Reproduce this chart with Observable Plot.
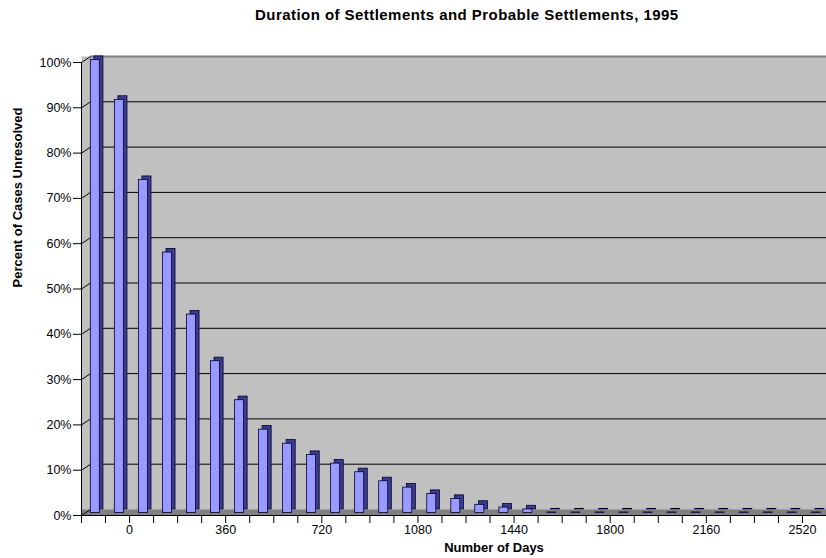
<!DOCTYPE html>
<html>
<head>
<meta charset="utf-8">
<script src="https://cdn.jsdelivr.net/npm/d3@7"></script>
<script src="https://cdn.jsdelivr.net/npm/@observablehq/plot@0.6"></script>
<style>
  body { margin: 0; background: #fff; font-family: "Liberation Sans", Arial, sans-serif; }
  #title { height: 30px; line-height: 30px; font-weight: bold; font-size: 15px; letter-spacing: 0.45px; padding-left: 255px; white-space: nowrap; color: #000; }
</style>
</head>
<body>
<div id="title">Duration of Settlements and Probable Settlements, 1995</div>
<div id="chart"></div>
<script>
// Category bins (start day of each 90-day bin)
const binStart = [-180, -90, 0, 90, 180, 270, 360, 450, 540, 630, 720, 810, 900, 990, 1080, 1170,
                  1260, 1350, 1440, 1530, 1620, 1710, 1800, 1890, 1980, 2070, 2160, 2250, 2340, 2430, 2520];
const binWidth = 90;
// Percent of cases unresolved
const pctUnresolved = [100, 91.2, 73.5, 57.5, 43.8, 33.5, 24.9, 18.4, 15.3, 12.8, 10.9, 9.0, 7.0, 5.6, 4.2, 3.1,
                       1.8, 1.2, 0.8, 0.12, 0.12, 0.12, 0.12, 0.12, 0.12, 0.12, 0.12, 0.12, 0.12, 0.12, 0.12];
// Axis ticks
const xTickLabels = [0, 360, 720, 1080, 1440, 1800, 2160, 2520];
const yTicks = [0, 10, 20, 30, 40, 50, 60, 70, 80, 90, 100];

const data = binStart.map((s, i) => ({start: s, end: s + binWidth, pct: pctUnresolved[i]}));
const xBoundaries = [...binStart, binStart[binStart.length - 1] + binWidth];
const xDomain = [xBoundaries[0], xBoundaries[xBoundaries.length - 1]];

const W = 826, H = 528, mL = 81, mR = 0, mT = 32, mB = 43;
// 3-D depth of the walls in pixels, converted to data units
const depthX = 9, depthY = 6;
const depthDays = depthX * (xDomain[1] - xDomain[0]) / (W - mL - mR);
const depthPct = depthY * 100 / (H - mT - mB);

const barInset = 7.5, barDx = 1.8, barDy = -2.5, barDepth = 3.6;

const chart = Plot.plot({
  width: W, height: H,
  marginLeft: mL, marginRight: mR, marginTop: mT, marginBottom: mB,
  style: {fontFamily: '"Liberation Sans", Arial, sans-serif', fontSize: "12.5px", background: "#fff", overflow: "visible"},
  x: {type: "linear", domain: xDomain},
  y: {domain: [0, 100]},
  marks: [
    // back wall
    Plot.frame({fill: "#c0c0c0", insetTop: -depthY}),
    // floor
    Plot.ruleY([0], {stroke: "#808080", strokeWidth: depthY, dy: -depthY / 2}),
    // back wall left edge
    Plot.ruleX([xDomain[0]], {dx: depthX, dy: -depthY, stroke: "#9a9a9a"}),
    // gridlines on back wall
    Plot.ruleY(yTicks.filter(v => v > 0 && v < 100), {dx: depthX, dy: -depthY, stroke: "#000", strokeWidth: 1}),
    Plot.ruleY([100], {dx: depthX, dy: -depthY, stroke: "#808080", strokeWidth: 2}),
    // diagonal connectors on side wall
    Plot.link(yTicks, {x1: () => xDomain[0], x2: () => xDomain[0] + depthDays, y1: v => v, y2: v => v + depthPct, stroke: "#000", strokeWidth: 1}),
    // bars: side/top extrusion
    Plot.rectY(data, {x1: "start", x2: "end", y: "pct", insetLeft: barInset, insetRight: barInset,
      dx: barDx + barDepth, dy: barDy - barDepth, fill: "#3c3c8c", stroke: "#000033", strokeWidth: 0.8}),
    // bars: front face
    Plot.rectY(data, {x1: "start", x2: "end", y: "pct", insetLeft: barInset, insetRight: barInset,
      dx: barDx, dy: barDy, fill: "#9999ff", stroke: "#000033", strokeWidth: 0.8}),
    // front axis lines
    Plot.ruleY([0], {stroke: "#000"}),
    Plot.ruleX([xDomain[0]], {stroke: "#000"}),
    Plot.axisY({ticks: yTicks, tickFormat: d => d + "%", tickSize: 8, tickPadding: 2, label: null}),
    Plot.axisX({ticks: xBoundaries, tickFormat: d => xTickLabels.includes(d) ? String(d) : "", tickSize: 8, tickPadding: 2, label: null}),
    // axis titles
    Plot.text(["Number of Days"], {frameAnchor: "bottom", dy: 36, dx: 40, fontWeight: "bold", fontSize: 13}),
    Plot.text(["Percent of Cases Unresolved"], {frameAnchor: "left", rotate: -90, dx: -63.5, dy: -1.5, fontWeight: "bold", fontSize: 13})
  ]
});
document.getElementById("chart").appendChild(chart);
</script>
</body>
</html>
